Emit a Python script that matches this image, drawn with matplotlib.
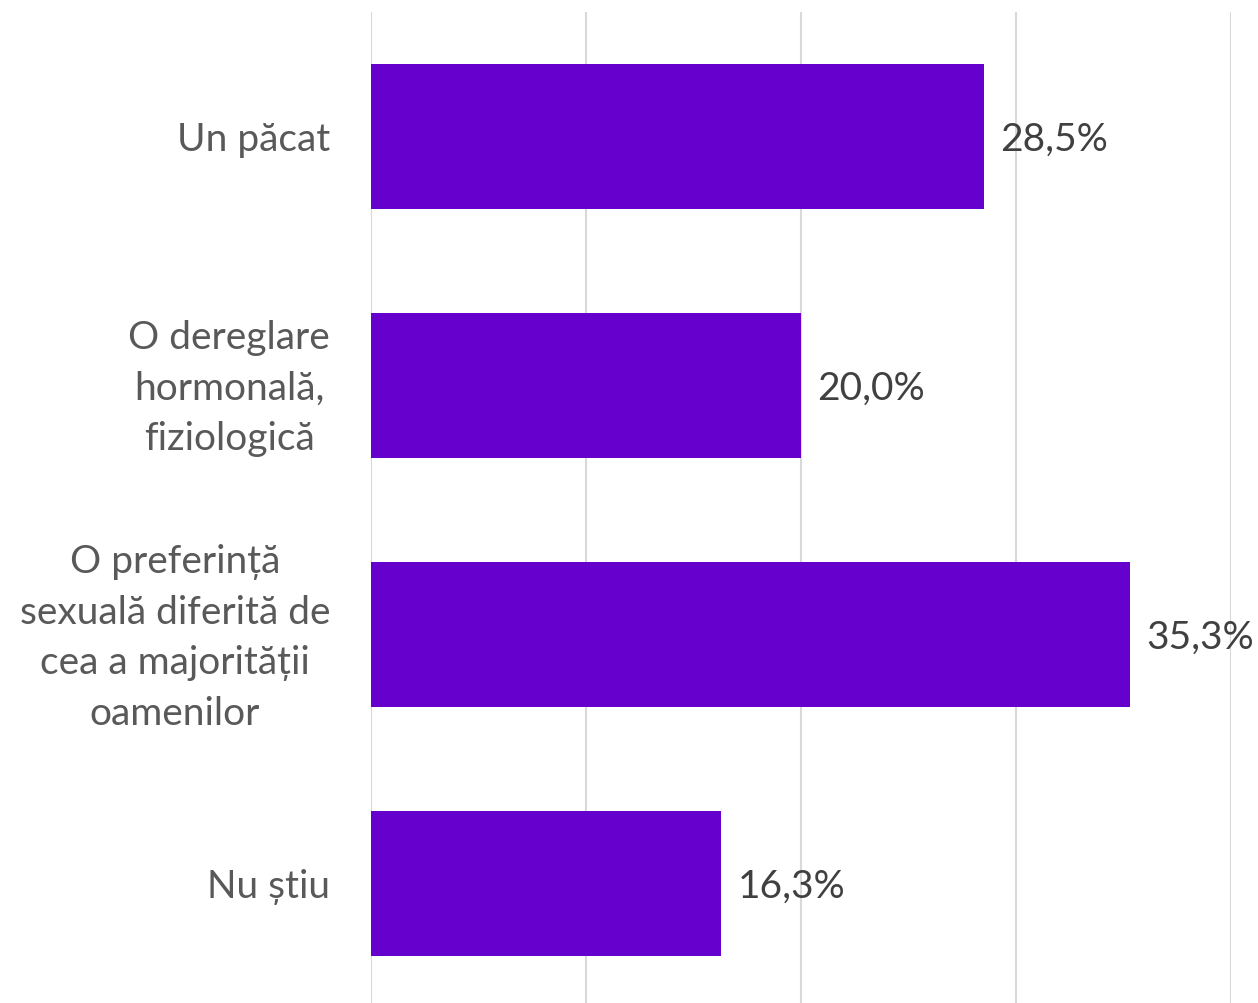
import matplotlib.pyplot as plt
import numpy as np

# data
categories = ["Un păcat",
              "O dereglare\nhormonală,\nfiziologică",
              "O preferință\nsexuală diferită de\ncea a majorității\noamenilor",
              "Nu știu"]
values = [0.285, 0.200, 0.353, 0.163]
value_labels = ["28,5%", "20,0%", "35,3%", "16,3%"]

plt.rcParams['font.family'] = ['Lato', 'DejaVu Sans']

fig = plt.figure(figsize=(12.58, 10.04), dpi=100)
ax = fig.add_axes([371 / 1258, -5 / 1004, 860 / 1258, 996 / 1004])

y = np.arange(len(categories))
ax.barh(y, values, height=0.58, color="#6600CC", zorder=3)
ax.set_ylim(len(categories) - 0.5, -0.5)
ax.set_xlim(0, 0.4)
ax.set_xticks([0, 0.1, 0.2, 0.3, 0.4])
ax.grid(axis="x", color="#D9D9D9", linewidth=1.5, zorder=0)
ax.tick_params(axis="both", length=0, labelbottom=False, labelleft=False)
ax.set_yticks(y)
for s in ax.spines.values():
    s.set_visible(False)

# category labels, right edge of block at ~330px, lines centred
trans = ax.get_yaxis_transform()
for yi, cat in zip(y, categories):
    ax.text(-41 / 860, yi + 0.01, cat, transform=trans, ha="right", va="center",
            multialignment="center", fontsize=28, color="#595959",
            linespacing=1.5)

for yi, v, t in zip(y, values, value_labels):
    ax.text(v + 0.0075, yi + 0.01, t, va="center", ha="left", fontsize=28,
            color="#404040")

fig.savefig("out.png", dpi=100)
